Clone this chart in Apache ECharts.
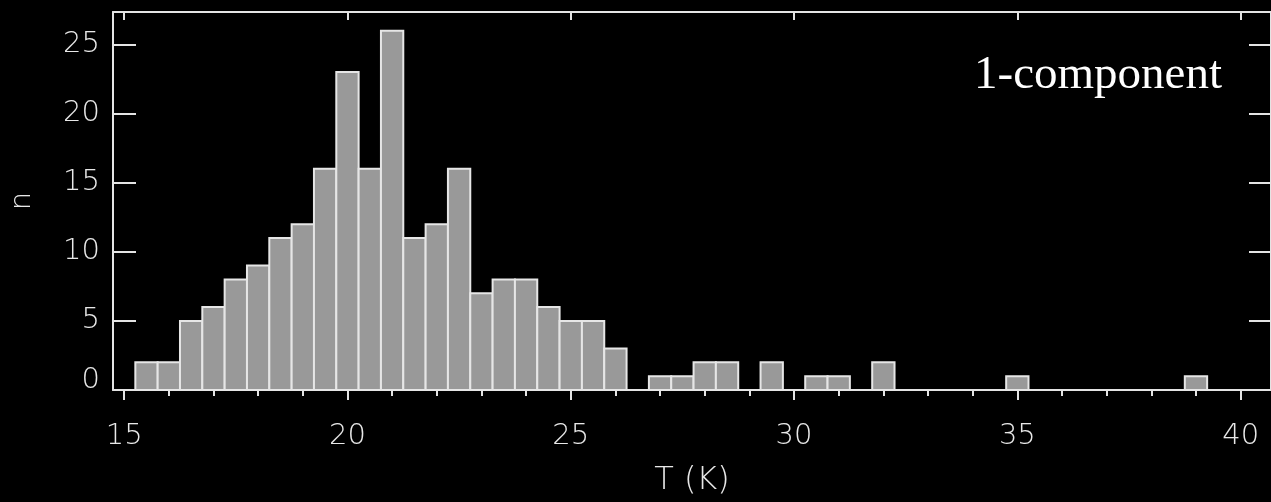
<!DOCTYPE html>
<html>
<head>
<meta charset="utf-8">
<title>Temperature histogram</title>
<script src="https://cdn.jsdelivr.net/npm/echarts@6/dist/echarts.min.js"></script>
<style>
  html, body { margin: 0; padding: 0; background: #000; }
  #chart { width: 1271px; height: 502px; }
</style>
</head>
<body>
<div id="chart"></div>
<script>
// Histogram of fitted temperatures, 0.5 K bins (bin centres in K)
const binCenters = [15.5, 16, 16.5, 17, 17.5, 18, 18.5, 19, 19.5, 20,
                    20.5, 21, 21.5, 22, 22.5, 23, 23.5, 24, 24.5, 25,
                    25.5, 26, 27, 27.5, 28, 28.5, 29.5, 30.5, 31, 32,
                    35, 39];
const counts = [2, 2, 5, 6, 8, 9, 11, 12, 16, 23,
                16, 26, 11, 12, 16, 7, 8, 8, 6, 5,
                5, 3, 1, 1, 2, 2, 2, 1, 1, 2,
                1, 1];
const binWidth = 0.5;

const xMajorTicks = [15, 20, 25, 30, 35, 40];
const xMinorTicks = [15, 16, 17, 18, 19, 20, 21, 22, 23, 24, 25, 26, 27,
                     28, 29, 30, 31, 32, 33, 34, 35, 36, 37, 38, 39, 40];
const yTicks = [0, 5, 10, 15, 20, 25];

const xName = 'T (K)';
const yName = 'n';
const panelLabel = '1-component';

const X_MIN = 14.75, X_MAX = 40.68;
const Y_MIN = 0, Y_MAX = 27.35;

const lineColor = '#e4e4e4';
const textColor = '#e8e8e8';
const labelFont = { fontFamily: 'DejaVu Sans', fontWeight: 200, fontSize: 29, color: textColor };

const chart = echarts.init(document.getElementById('chart'), null, { renderer: 'canvas' });

const baseX = {
  type: 'value', min: X_MIN, max: X_MAX,
  splitLine: { show: false }
};
const baseY = {
  type: 'value', min: Y_MIN, max: Y_MAX,
  splitLine: { show: false }
};

chart.setOption({
  backgroundColor: '#000',
  animation: false,
  grid: { left: 110, top: 12, width: 1162, height: 380, containLabel: false },
  xAxis: [
    // bottom axis: line and 1 K minor ticks pointing outward
    Object.assign({}, baseX, {
      position: 'bottom',
      axisLine: { show: true, lineStyle: { color: lineColor, width: 2 } },
      axisTick: { show: true, inside: false, length: 6, customValues: xMinorTicks,
                  lineStyle: { color: lineColor, width: 2 } },
      axisLabel: { show: false }
    }),
    // bottom axis: major ticks, labels and title
    Object.assign({}, baseX, {
      position: 'bottom',
      axisLine: { show: false },
      axisTick: { show: true, inside: false, length: 10, customValues: xMajorTicks,
                  lineStyle: { color: lineColor, width: 2 } },
      axisLabel: Object.assign({ show: true, margin: 32, customValues: xMajorTicks,
                                 formatter: v => String(v) }, labelFont),
      name: xName,
      nameLocation: 'middle',
      nameGap: 75,
      nameTextStyle: Object.assign({}, labelFont, { fontSize: 32 })
    }),
    // top frame with inward major ticks
    Object.assign({}, baseX, {
      position: 'top',
      axisLine: { show: true, lineStyle: { color: lineColor, width: 2 } },
      axisTick: { show: true, inside: true, length: 8, customValues: xMajorTicks,
                  lineStyle: { color: lineColor, width: 2 } },
      axisLabel: { show: false }
    })
  ],
  yAxis: [
    Object.assign({}, baseY, {
      position: 'left',
      axisLine: { show: true, lineStyle: { color: lineColor, width: 2 } },
      axisTick: { show: true, inside: true, length: 23, customValues: yTicks,
                  lineStyle: { color: lineColor, width: 2 } },
      axisLabel: Object.assign({
        show: true, margin: 13, customValues: yTicks,
        formatter: v => (v === 0 ? '{zero|0}' : String(v)),
        rich: { zero: Object.assign({ padding: [0, 0, 20, 0] }, labelFont) }
      }, labelFont),
      name: yName,
      nameLocation: 'middle',
      nameGap: 76,
      nameRotate: 90,
      nameTextStyle: Object.assign({}, labelFont)
    }),
    Object.assign({}, baseY, {
      position: 'right',
      axisLine: { show: true, lineStyle: { color: lineColor, width: 2 } },
      axisTick: { show: true, inside: true, length: 22, customValues: yTicks,
                  lineStyle: { color: lineColor, width: 2 } },
      axisLabel: { show: false }
    })
  ],
  graphic: [{
    type: 'text',
    x: 1222,
    y: 76,
    style: {
      text: panelLabel,
      fill: '#ffffff',
      font: '47px "Liberation Serif"',
      textAlign: 'right',
      textVerticalAlign: 'middle'
    },
    z: 10
  }],
  series: [{
    type: 'custom',
    xAxisIndex: 0,
    yAxisIndex: 0,
    data: binCenters.map((c, i) => [c, counts[i]]),
    renderItem: function (params, api) {
      const x = api.value(0);
      const n = api.value(1);
      if (!n) return null;
      const topLeft = api.coord([x - binWidth / 2, n]);
      const bottomRight = api.coord([x + binWidth / 2, 0]);
      return {
        type: 'rect',
        shape: {
          x: topLeft[0],
          y: topLeft[1],
          width: bottomRight[0] - topLeft[0],
          height: bottomRight[1] - topLeft[1]
        },
        style: { fill: '#999999', stroke: '#e6e6e6', lineWidth: 2 }
      };
    },
    z: 3
  }]
});
</script>
</body>
</html>
